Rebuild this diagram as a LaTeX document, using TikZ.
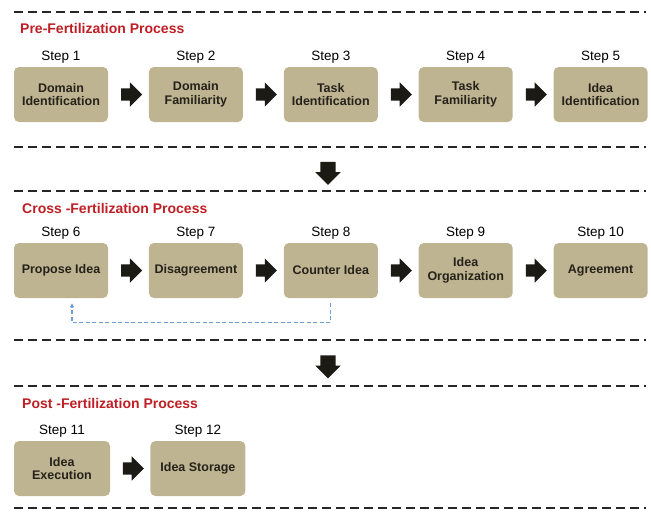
\documentclass[tikz,border=0pt]{standalone}
\usepackage{fontspec}
\setmainfont{Liberation Sans}
\usetikzlibrary{shapes.arrows, arrows.meta, positioning, calc}
\usepackage{xcolor}
\definecolor{boxKhaki}{RGB}{190,180,146}
\definecolor{textDark}{RGB}{38,34,26}
\definecolor{titleRed}{RGB}{190,30,36}
\definecolor{arrowDark}{RGB}{28,26,20}
\definecolor{loopBlue}{RGB}{112,158,214}
\tikzset{
    >=Stealth,
    % Boxes
    stepBox/.style={rectangle, rounded corners=5pt, fill=boxKhaki,
                    minimum width=94pt, minimum height=55pt, align=center, inner sep=2pt,
                    font=\fontsize{12.5}{13.5}\selectfont\bfseries, text=textDark, label distance=2.5pt},
    stepLbl/.style={font=\fontsize{13.5}{15}\selectfont, text=black},
    sectionTitle/.style={anchor=west, inner sep=0pt, font=\fontsize{14}{16}\selectfont\bfseries, text=titleRed},
    % Arrows & Lines
    blockArrow/.style={single arrow, fill=arrowDark, inner xsep=0pt, inner ysep=6pt,
                       single arrow head extend=6pt, minimum height=21pt, minimum width=0pt},
    downArrow/.style={blockArrow, rotate=-90, inner ysep=7.5pt,
                      single arrow head extend=5pt, minimum height=23pt},
    sepLine/.style={draw=black!85, line width=1.8pt, dash pattern=on 9pt off 5pt},
    feedback/.style={draw=loopBlue, line width=1.3pt, dash pattern=on 4pt off 2.5pt,
                     -{Latex[length=4pt,width=5pt]}, shorten <=5pt, shorten >=5pt}
}

\begin{document}
\begin{tikzpicture}[x=1pt, y=-1pt, node distance=40.5pt]
\useasboundingbox (0,0) rectangle (651,512);

% Pre-fertilization
\draw[sepLine] (14,12) -- (646,12);
\node[sectionTitle] (t1) at (20,28) {Pre-Fertilization Process};

\node[stepBox, label={[stepLbl]above:Step 1}] (b1) at (61,94.5) {Domain\\Identification};
\node[stepBox, label={[stepLbl]above:Step 2}, right=of b1] (b2) {Domain\\Familiarity};
\node[stepBox, label={[stepLbl]above:Step 3}, right=of b2] (b3) {Task\\Identification};
\node[stepBox, label={[stepLbl]above:Step 4}, right=of b3] (b4) {Task\\Familiarity};
\node[stepBox, label={[stepLbl]above:Step 5}, right=of b4] (b5) {Idea\\Identification};

\node[blockArrow] (a1) at ($(b1.east)!0.5!(b2.west)$) {};
\node[blockArrow] (a2) at ($(b2.east)!0.5!(b3.west)$) {};
\node[blockArrow] (a3) at ($(b3.east)!0.5!(b4.west)$) {};
\node[blockArrow] (a4) at ($(b4.east)!0.5!(b5.west)$) {};

\draw[sepLine] (14,147) -- (646,147);
\node[downArrow] (d1) at (328,169.5) {};
\draw[sepLine] (14,191) -- (646,191);

% Cross-fertilization
\node[sectionTitle] (t2) at (22,208) {Cross -Fertilization Process};

\node[stepBox, label={[stepLbl]above:Step 6}] (b6) at (61,270.5) {Propose Idea};
\node[stepBox, label={[stepLbl]above:Step 7}, right=of b6] (b7) {Disagreement};
\node[stepBox, label={[stepLbl]above:Step 8}, right=of b7] (b8) {Counter Idea};
\node[stepBox, label={[stepLbl]above:Step 9}, right=of b8] (b9) {Idea\\Organization};
\node[stepBox, label={[stepLbl]above:Step 10}, right=of b9] (b10) {Agreement};

\node[blockArrow] (a6) at ($(b6.east)!0.5!(b7.west)$) {};
\node[blockArrow] (a7) at ($(b7.east)!0.5!(b8.west)$) {};
\node[blockArrow] (a8) at ($(b8.east)!0.5!(b9.west)$) {};
\node[blockArrow] (a9) at ($(b9.east)!0.5!(b10.west)$) {};

\draw[feedback] (b8.south) -- ++(0,24) -| ([xshift=11pt]b6.south);

\draw[sepLine] (14,340) -- (646,340);
\node[downArrow] (d2) at (328,363) {};
\draw[sepLine] (14,386) -- (646,386);

% Post-fertilization
\node[sectionTitle] (t3) at (22,403) {Post -Fertilization Process};

\node[stepBox, minimum width=96pt, label={[stepLbl]above:Step 11}] (b11) at (62,468.5) {Idea\\Execution};
\node[stepBox, minimum width=95pt, label={[stepLbl]above:Step 12}, right=40pt of b11] (b12) {Idea Storage};

\node[blockArrow] (a11) at ($(b11.east)!0.5!(b12.west)$) {};

\draw[sepLine] (14,508) -- (646,508);

\end{tikzpicture}
\end{document}
